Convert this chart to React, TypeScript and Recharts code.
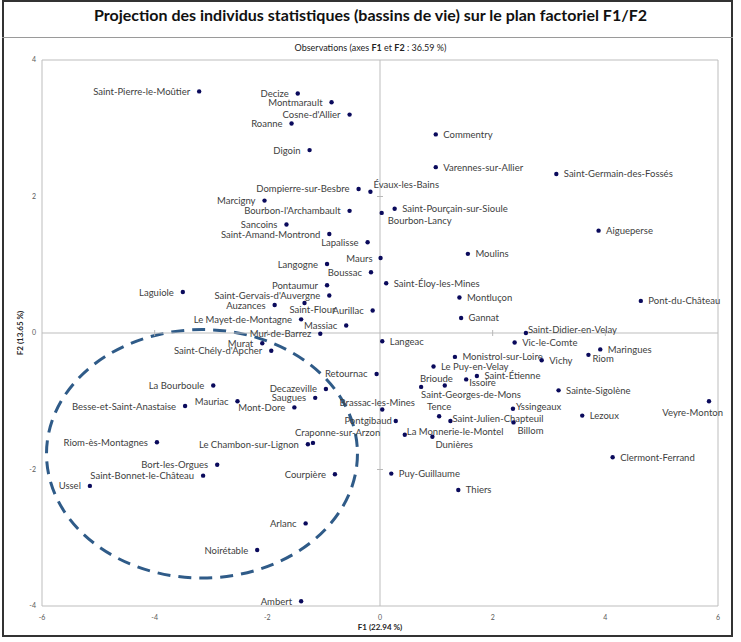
import React from "react";
import { ScatterChart, Scatter, XAxis, YAxis, ReferenceLine, ReferenceArea, ReferenceDot } from "recharts";

// bassins de vie, coordinates on F1 / F2
const names = [
  "Saint-Pierre-le-Moûtier", "Decize", "Montmarault", "Cosne-d'Allier", "Roanne", "Digoin",
  "Commentry", "Varennes-sur-Allier", "Saint-Germain-des-Fossés", "Évaux-les-Bains",
  "Dompierre-sur-Besbre", "Marcigny", "Bourbon-l'Archambault", "Saint-Pourçain-sur-Sioule",
  "Bourbon-Lancy", "Sancoins", "Saint-Amand-Montrond", "Aigueperse", "Lapalisse", "Maurs",
  "Moulins", "Langogne", "Boussac", "Saint-Éloy-les-Mines", "Pontaumur", "Laguiole",
  "Saint-Gervais-d'Auvergne", "Montluçon", "Pont-du-Château", "Auzances", "Saint-Flour",
  "Aurillac", "Gannat", "Le Mayet-de-Montagne", "Massiac", "Mur-de-Barrez",
  "Saint-Didier-en-Velay", "Langeac", "Vic-le-Comte", "Murat", "Saint-Chély-d'Apcher",
  "Maringues", "Monistrol-sur-Loire", "Riom", "Vichy", "Retournac", "Le Puy-en-Velay",
  "Saint-Étienne", "Brioude", "Issoire", "La Bourboule", "Decazeville", "Saint-Georges-de-Mons",
  "Sainte-Sigolène", "Saugues", "Brassac-les-Mines", "Besse-et-Saint-Anastaise", "Mauriac",
  "Mont-Dore", "Tence", "Yssingeaux", "Lezoux", "Veyre-Monton", "Pontgibaud",
  "Saint-Julien-Chapteuil", "Billom", "Craponne-sur-Arzon", "La Monnerie-le-Montel", "Dunières",
  "Riom-ès-Montagnes", "Le Chambon-sur-Lignon", "Clermont-Ferrand", "Bort-les-Orgues",
  "Saint-Bonnet-le-Château", "Courpière", "Puy-Guillaume", "Ussel", "Thiers", "Arlanc",
  "Noirétable", "Ambert",
];

const f1 = [
  -3.21, -1.46, -0.86, -0.54, -1.57, -1.25,
  0.99, 0.99, 3.13, -0.17,
  -0.38, -2.05, -0.54, 0.26,
  0.03, -1.66, -0.90, 3.88, -0.22, 0.01,
  1.56, -0.94, -0.16, 0.11, -0.94, -3.50,
  -0.90, 1.41, 4.63, -1.87, -1.34,
  -0.13, 1.44, -1.40, -0.60, -1.06,
  2.59, 0.04, 2.39, -2.09, -1.93,
  3.91, 1.33, 3.70, 2.87, -0.06, 0.95,
  1.72, 1.15, 1.53, -2.96, -0.96, 0.73,
  3.17, -1.15, 0.04, -3.46, -2.53,
  -1.52, 1.05, 2.36, 3.59, 5.84, 0.28,
  1.25, 2.37, -1.19, 0.44, 0.93,
  -3.96, -1.28, 4.13, -2.89,
  -3.14, -0.80, 0.20, -5.15, 1.39, -1.32,
  -2.18, -1.40,
];

const f2 = [
  3.54, 3.51, 3.38, 3.20, 3.07, 2.68,
  2.91, 2.43, 2.33, 2.07,
  2.11, 1.94, 1.79, 1.82,
  1.76, 1.59, 1.45, 1.50, 1.33, 1.10,
  1.16, 1.01, 0.89, 0.73, 0.70, 0.60,
  0.55, 0.52, 0.47, 0.41, 0.44,
  0.33, 0.22, 0.20, 0.11, -0.01,
  0.00, -0.12, -0.14, -0.15, -0.26,
  -0.24, -0.35, -0.32, -0.40, -0.60, -0.49,
  -0.63, -0.77, -0.68, -0.77, -0.82, -0.79,
  -0.84, -0.95, -1.12, -1.07, -1.00,
  -1.09, -1.22, -1.11, -1.21, -1.00, -1.29,
  -1.29, -1.31, -1.61, -1.49, -1.52,
  -1.60, -1.63, -1.82, -1.93,
  -2.09, -2.07, -2.06, -2.24, -2.30, -2.79,
  -3.18, -3.93,
];

const xTicks = [-6, -4, -2, 0, 2, 4, 6];
const yTicks = [-4, -2, 0, 2, 4];

// hand-drawn grouping ellipse (bounding box on F1/F2)
const ellipseBox = { x1: -5.92, x2: -0.40, y1: -3.59, y2: 0.05 };

const points = names.map((name, i) => ({ name, x: f1[i], y: f2[i] }));

// label placement that differs from the default (left for F1<0, right otherwise)
const labelAdjust: Record<string, [number, number, "start" | "end" | "middle"]> = {
  "Évaux-les-Bains": [3, -4, "start"],
  "Bourbon-Lancy": [6, 11, "start"],
  "Saint-Didier-en-Velay": [2, 0, "start"],
  "Riom": [4, 7, "start"],
  "Issoire": [3, 7, "start"],
  "Brioude": [8, -4, "end"],
  "Saint-Georges-de-Mons": [0, 11, "start"],
  "Veyre-Monton": [14, 15, "end"],
  "Billom": [4, 12, "start"],
  "Dunières": [3, 11, "start"],
  "La Monnerie-le-Montel": [2, 0, "start"],
  "Tence": [0, -6, "middle"],
  "Saint-Julien-Chapteuil": [2, 1, "start"],
  "Yssingeaux": [3, 1, "start"],
  "Pontgibaud": [-4, 3, "end"],
  "Brassac-les-Mines": [-5, -3, "middle"],
  "Maurs": [-8, 4, "end"],
  "Craponne-sur-Arzon": [-18, -7, "start"],
  "Saint-Flour": [-15, 10, "start"],
};

const PointShape = (props: any) => {
  const { cx, cy, payload } = props;
  const adj = labelAdjust[payload.name];
  const [dx, dy, anchor] = adj ?? (payload.x < 0 ? [-9, 3.5, "end"] : [7.5, 3.5, "start"]);
  return (
    <g>
      <circle cx={cx} cy={cy} r={2.2} fill="#0a0a5c" />
      <text x={cx + dx} y={cy + dy} textAnchor={anchor} fontSize={9.5} fill="#404040" fontFamily="Lato, sans-serif">
        {payload.name}
      </text>
    </g>
  );
};

const EllipseShape = (props: any) => {
  const { x, y, width, height } = props;
  return (
    <ellipse
      cx={x + width / 2}
      cy={y + height / 2}
      rx={width / 2}
      ry={height / 2}
      fill="none"
      stroke="#2f5b88"
      strokeWidth={3}
      strokeDasharray="13 8"
    />
  );
};

const TickX = (props: any) => (
  <line x1={props.cx} x2={props.cx} y1={props.cy - 3} y2={props.cy + 3} stroke="#b8b8b8" />
);
const TickY = (props: any) => (
  <line x1={props.cx - 3} x2={props.cx + 3} y1={props.cy} y2={props.cy} stroke="#b8b8b8" />
);

export default function App() {
  return (
    <div style={{ position: "absolute", left: 0, top: 0, width: 741, height: 642, background: "#fff", fontFamily: "Lato, sans-serif" }}>
      <div style={{ position: "absolute", left: 2, top: 0, width: 731, height: 637, border: "2px solid #333", boxSizing: "border-box" }} />
      <div style={{ position: "absolute", left: 2, top: 37, width: 731, height: 1, background: "#9a9a9a" }} />
      <div style={{ position: "absolute", left: 0, top: 5, width: 741, textAlign: "center", fontSize: 16, fontWeight: 700, color: "#111" }}>
        Projection des individus statistiques (bassins de vie) sur le plan factoriel F1/F2
      </div>
      <div style={{ position: "absolute", left: 0, top: 42, width: 741, textAlign: "center", fontSize: 9, color: "#222" }}>
        Observations (axes <b>F1</b> et <b>F2</b> : 36.59 %)
      </div>
      <div style={{ position: "absolute", left: 0, top: 622, width: 760, textAlign: "center", fontSize: 8, fontWeight: 700, color: "#222" }}>
        F1 (22.94 %)
      </div>
      <div style={{ position: "absolute", left: 20, top: 333, fontSize: 8, fontWeight: 700, color: "#222", whiteSpace: "nowrap", transform: "translate(-50%, -50%) rotate(-90deg)" }}>
        F2 (13.65 %)
      </div>
      <div style={{ position: "absolute", left: 0, top: 0 }}>
        <ScatterChart width={741} height={642} margin={{ top: 60, right: 23, bottom: 16, left: 22 }}>
          <XAxis
            type="number"
            dataKey="x"
            domain={[-6, 6]}
            ticks={xTicks}
            axisLine={false}
            tickLine={false}
            height={20}
            tickMargin={3}
            tick={{ fontSize: 7, fill: "#595959" }}
          />
          <YAxis
            type="number"
            dataKey="y"
            domain={[-4, 4]}
            ticks={yTicks}
            axisLine={false}
            tickLine={false}
            width={20}
            tickMargin={0}
            tick={{ fontSize: 7, fill: "#595959" }}
          />
          <ReferenceArea x1={-6} x2={6} y1={-4} y2={4} fill="none" stroke="#bdbdbd" strokeWidth={1} />
          <ReferenceLine x={0} stroke="#bdbdbd" />
          <ReferenceLine y={0} stroke="#bdbdbd" />
          {xTicks.filter((t) => t !== 0 && Math.abs(t) !== 6).map((t) => (
            <ReferenceDot key={"tx" + t} x={t} y={0} shape={TickX} />
          ))}
          {yTicks.filter((t) => t !== 0 && Math.abs(t) !== 4).map((t) => (
            <ReferenceDot key={"ty" + t} x={0} y={t} shape={TickY} />
          ))}
          <ReferenceArea {...ellipseBox} shape={EllipseShape} ifOverflow="visible" />
          <Scatter data={points} shape={PointShape} isAnimationActive={false} />
        </ScatterChart>
      </div>
    </div>
  );
}
